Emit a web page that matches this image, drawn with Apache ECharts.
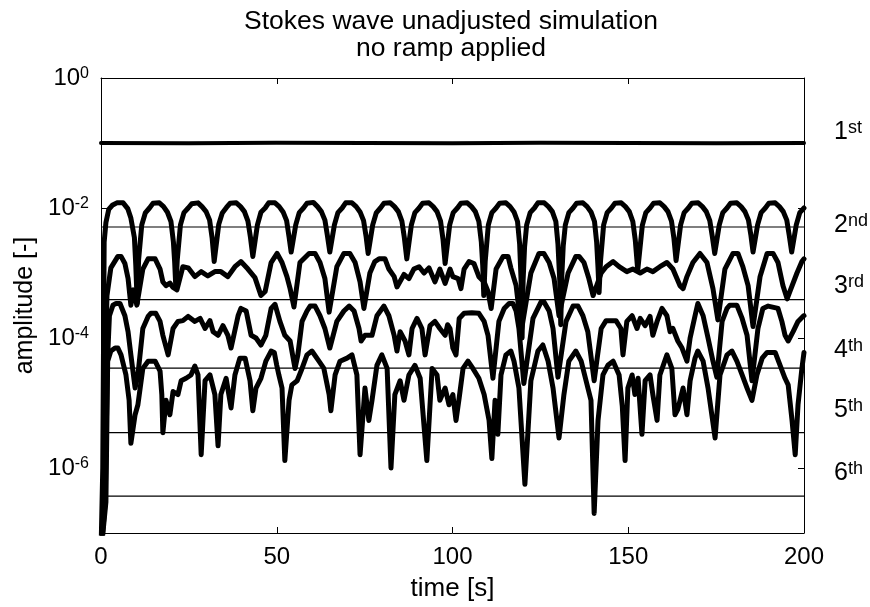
<!DOCTYPE html>
<html><head><meta charset="utf-8">
<script src="https://cdn.jsdelivr.net/npm/echarts@6/dist/echarts.min.js"></script>
<style>html,body{margin:0;padding:0;background:#fff}#c{width:870px;height:607px}</style>
</head><body><div id="c"></div>
<script>
// ---------- data ----------
const titleLines = ['Stokes wave unadjusted simulation', 'no ramp applied'];
const xName = 'time [s]';
const yName = 'amplitude [-]';
const timeTicks = [0, 50, 100, 150, 200];
const ampTicks = [1e-6, 1e-4, 1e-2, 1];
const ampMin = 1e-7, ampMax = 1;
const ordinals = [['1','st'],['2','nd'],['3','rd'],['4','th'],['5','th'],['6','th']];
// theoretical harmonic amplitudes (thin lines) for 2nd..6th
const refLevels = [5.1e-3, 3.9e-4, 3.45e-5, 3.5e-6, 3.7e-7];

const h1 = [[0,0.1],[25,0.099],[50,0.101],[75,0.1],[100,0.099],[125,0.101],[150,0.1],[175,0.099],[200,0.1]];

const h2 = [
[0,5e-8],[0.5,1e-6],[0.9,3e-3],[1.4,6e-3],[2.2,9.5e-3],[3.2,1.1e-2],[4.5,1.2e-2],[6.3,1.2e-2],[7.6,9.8e-3],[8.5,7e-3],[9.5,3.5e-3],[9.9,1.3e-3],[10.3,3.4e-4],[10.7,1.6e-3],
[11.6,5.5e-3],[12.6,8.4e-3],[13.8,1.0e-2],[14.8,1.18e-2],[16.6,1.2e-2],[17.8,1.05e-2],[18.9,8.6e-3],[19.9,6.2e-3],[20.6,3e-3],[20.95,1.5e-3],[21.3,5.8e-4],[21.7,1.6e-3],
[22.6,5.5e-3],[23.6,8.5e-3],[24.8,1.0e-2],[25.8,1.16e-2],[27.6,1.2e-2],[28.8,1.04e-2],[29.9,8.8e-3],[30.9,6.5e-3],[31.6,3.5e-3],[32.2,1.5e-3],
[33.5,5.6e-3],[34.5,8.4e-3],[35.7,1.02e-2],[36.7,1.18e-2],[38.5,1.2e-2],[39.7,1.05e-2],[40.8,8.8e-3],[41.8,6.3e-3],[42.5,3.6e-3],[43.2,1.8e-3],
[44.5,5.5e-3],[45.5,8.6e-3],[46.7,1.0e-2],[47.7,1.2e-2],[49.5,1.2e-2],[50.7,1.05e-2],[51.8,8.7e-3],[52.8,6.4e-3],[53.5,3.6e-3],[54.1,2.1e-3],
[55.4,5.5e-3],[56.4,8.5e-3],[57.6,1.0e-2],[58.6,1.18e-2],[60.4,1.22e-2],[61.6,1.05e-2],[62.7,8.8e-3],[63.7,6.5e-3],[64.4,3.8e-3],[65.1,2.1e-3],
[66.4,5.5e-3],[67.4,8.5e-3],[68.6,1.0e-2],[69.6,1.2e-2],[71.4,1.2e-2],[72.6,1.05e-2],[73.7,8.7e-3],[74.7,6.4e-3],[75.4,3.7e-3],[76.0,2.0e-3],
[77.3,5.5e-3],[78.3,8.4e-3],[79.5,1.0e-2],[80.5,1.18e-2],[82.3,1.2e-2],[83.5,1.05e-2],[84.6,8.8e-3],[85.6,6.3e-3],[86.3,3.5e-3],[87.0,1.65e-3],
[88.3,5.5e-3],[89.3,8.5e-3],[90.5,1.0e-2],[91.5,1.18e-2],[93.3,1.2e-2],[94.5,1.05e-2],[95.6,8.8e-3],[96.6,6.3e-3],[97.3,3.3e-3],[97.9,1.4e-3],
[99.2,5.5e-3],[100.2,8.5e-3],[101.4,1.0e-2],[102.4,1.18e-2],[104.2,1.2e-2],[105.4,1.05e-2],[106.5,8.8e-3],[107.5,6.2e-3],[108.2,3e-3],[108.6,1.3e-3],[108.9,4.5e-4],[109.3,1.5e-3],
[110.2,5.5e-3],[111.2,8.5e-3],[112.4,1.0e-2],[113.4,1.18e-2],[115.2,1.2e-2],[116.4,1.05e-2],[117.5,8.7e-3],[118.5,6.2e-3],[119.1,2.8e-3],[119.5,8e-4],[119.8,1.0e-4],[120.1,8e-4],[120.5,2.5e-3],
[121.1,5.5e-3],[122.1,8.5e-3],[123.3,1.0e-2],[124.3,1.2e-2],[126.1,1.2e-2],[127.3,1.05e-2],[128.4,8.8e-3],[129.4,6.2e-3],[130.0,2.8e-3],[130.5,8e-4],[130.8,1.6e-4],[131.1,9e-4],[131.5,2.6e-3],
[132.1,5.5e-3],[133.1,8.5e-3],[134.3,1.0e-2],[135.3,1.18e-2],[137.1,1.2e-2],[138.3,1.05e-2],[139.4,8.7e-3],[140.4,6.2e-3],[141.0,3e-3],[141.4,1.2e-3],[141.7,5e-4],[142.1,1.5e-3],
[143.0,5.5e-3],[144.0,8.5e-3],[145.2,1.0e-2],[146.2,1.18e-2],[148.0,1.2e-2],[149.2,1.05e-2],[150.3,8.8e-3],[151.3,6.2e-3],[152.0,3.2e-3],[152.7,1.1e-3],
[154.0,5.4e-3],[155.0,8.5e-3],[156.2,1.0e-2],[157.2,1.18e-2],[159.0,1.2e-2],[160.2,1.05e-2],[161.3,8.8e-3],[162.3,6.3e-3],[163.0,3.4e-3],[163.6,1.55e-3],
[164.9,5.5e-3],[165.9,8.5e-3],[167.1,1.0e-2],[168.1,1.18e-2],[169.9,1.2e-2],[171.1,1.05e-2],[172.2,8.8e-3],[173.2,6.4e-3],[173.9,3.7e-3],[174.6,2.0e-3],
[175.9,5.5e-3],[176.9,8.5e-3],[178.1,1.0e-2],[179.1,1.18e-2],[180.9,1.2e-2],[182.1,1.05e-2],[183.2,8.8e-3],[184.2,6.5e-3],[184.9,3.8e-3],[185.5,2.1e-3],
[186.8,5.5e-3],[187.8,8.5e-3],[189.0,1.0e-2],[190.0,1.18e-2],[191.8,1.2e-2],[193.0,1.05e-2],[194.1,8.8e-3],[195.1,6.5e-3],[195.8,3.8e-3],[196.5,2.1e-3],
[197.8,5.5e-3],[198.8,8.5e-3],[200,1.0e-2]
];

const h3 = [
[0,5e-8],[0.8,3e-7],[1.3,5e-5],[1.7,4.5e-4],[2.8,1.2e-3],[4.8,1.8e-3],[5.7,1.8e-3],[6.8,1.4e-3],[7.7,8.2e-4],[8.5,3.2e-4],[9.2,5.5e-4],[10.2,3.2e-4],
[11.9,1.15e-3],[13.4,1.65e-3],[15.4,1.65e-3],[16.8,1.15e-3],[17.6,7.3e-4],[18.5,6.4e-4],[19.6,7e-4],[20.5,6e-4],[21.6,5.5e-4],[23.3,1.25e-3],
[24.8,1.2e-3],[26.7,8.8e-4],[28.5,1.05e-3],[30.4,9e-4],[32.4,1.05e-3],[34.1,1.05e-3],[36.1,8.8e-4],[38.1,1.25e-3],[39.8,1.5e-3],[41.8,1.15e-3],[43.8,8.5e-4],[45.5,4.5e-4],[46.7,5.2e-4],
[48.4,1.45e-3],[50.1,2e-3],[51.5,1.45e-3],[52.9,8.8e-4],[53.8,5.75e-4],[54.9,3e-4],[56.6,1.45e-3],[59.2,2e-3],[60.9,2e-3],[62.3,1.45e-3],[63.7,8.2e-4],[64.9,2.5e-4],
[67.1,1.25e-3],[69.1,2e-3],[70.8,2e-3],[72.3,1.45e-3],[73.7,7.3e-4],[74.8,2.85e-4],[76.5,1e-3],[77.9,1.5e-3],[79.1,1.65e-3],[80.8,1.65e-3],[81.9,1.15e-3],[83.4,8.8e-4],[84.2,6.1e-4],
[86.2,9.5e-4],[87.6,8.2e-4],[89.0,1.15e-3],[90.5,1.25e-3],[91.9,1e-3],[93.3,1.2e-3],[95.0,7.3e-4],[96.4,1.15e-3],[97.9,6.9e-4],[99.3,1.15e-3],[100.1,8.8e-4],[101.6,8.2e-4],[102.4,5.75e-4],
[103.3,1.15e-3],[104.7,1.5e-3],[106.1,1.4e-3],[107.5,8.8e-4],[109.0,7.3e-4],[110.1,5.2e-4],[111.0,2.85e-4],[112.4,1.15e-3],[114.4,1.8e-3],[115.8,1.8e-3],[116.6,1.2e-3],[118.1,6.4e-4],[119.6,1.3e-4],
[122.3,1e-3],[124.6,2e-3],[126.0,2e-3],[127.5,1.45e-3],[128.9,8.2e-4],[130.3,2.2e-4],[132.9,1e-3],[135.1,1.8e-3],[136.0,1.8e-3],[137.4,1.45e-3],[138.8,8.2e-4],[140.0,4.5e-4],
[142.3,1e-3],[143.7,1.25e-3],[145.7,1.5e-3],[147.4,1.25e-3],[149.6,1.05e-3],[151.3,1.15e-3],[153.4,1e-3],[155.3,1.15e-3],[157.0,1.05e-3],[159.0,1.25e-3],[161.0,1.45e-3],[162.7,1.15e-3],[164.7,6.4e-4],[165.6,5.75e-4],[166.7,8.8e-4],
[168.4,1.45e-3],[170.4,2e-3],[172.4,1.45e-3],[174.1,5.75e-4],[175.5,1.9e-4],[177.5,1.15e-3],[179.8,2e-3],[181.2,2e-3],[182.6,1.25e-3],[184.1,6.4e-4],[185.5,1.5e-4],[187.5,8.8e-4],[189.5,2e-3],[191.2,2e-3],[192.6,1.45e-3],[194.0,6.4e-4],[195.2,4e-4],[196.0,5.2e-4],[198.0,1e-3],[199.4,1.5e-3],[200,1.65e-3]
];

const h4 = [
[0,5e-8],[1.2,3e-7],[1.8,4e-5],[2.4,2.2e-4],[3.4,3.2e-4],[4.3,3.4e-4],[5.4,3.4e-4],[6.8,2.2e-4],[7.7,1.25e-4],[8.5,5.5e-5],[9.7,1.7e-5],[10.5,2.7e-5],
[11.9,1.4e-4],[13.4,2.15e-4],[14.2,2.4e-4],[15.6,2.4e-4],[16.8,1.8e-4],[17.6,1.1e-4],[19.1,5.5e-5],[20.5,1.4e-4],[21.9,1.8e-4],[23.3,1.85e-4],[24.8,2.15e-4],[26.7,1.8e-4],[28.2,2e-4],
[29.6,1.4e-4],[31.0,1.85e-4],[31.9,1.25e-4],[33.3,1.1e-4],[34.7,1.55e-4],[36.1,1.1e-4],[37.0,7e-5],[39.0,2.2e-4],[39.8,2.85e-4],[41.3,2.6e-4],[42.7,1.1e-4],[44.1,1e-4],[45.5,7.8e-5],[46.9,1.1e-4],
[48.4,2.85e-4],[49.5,3.3e-4],[50.9,1.8e-4],[52.3,1.1e-4],[53.8,9e-5],[55.2,3.4e-5],[56.0,5.5e-5],[57.2,1.8e-4],[58.6,2.6e-4],[59.5,3.1e-4],[60.9,3.1e-4],[62.3,2.2e-4],[63.7,1.4e-4],[65.1,7e-5],
[67.1,1.8e-4],[69.1,2.6e-4],[70.6,3.1e-4],[72.0,2.6e-4],[73.4,1.4e-4],[74.0,9e-5],[75.1,1.1e-4],[77.1,1.1e-4],[78.5,2.2e-4],[80.5,3.1e-4],[81.9,2.2e-4],[83.4,1.1e-4],[84.2,6.3e-5],
[85.1,1.25e-4],[86.5,9e-5],[87.6,5.5e-5],[88.5,1.4e-4],[89.9,2e-4],[91.3,1.4e-4],[92.2,5.5e-5],[93.6,1.55e-4],[95.0,1.8e-4],[96.4,1.4e-4],[97.9,1.1e-4],[98.6,1.6e-4],[99.3,1.4e-4],[100.1,7e-5],[101.0,5.5e-5],
[101.9,2e-4],[103.3,2.4e-4],[105.5,2.45e-4],[107.5,2.4e-4],[109.0,1.8e-4],[110.1,1.1e-4],[111.5,2.4e-5],[113.2,1.8e-4],[114.7,2.85e-4],[116.1,3.4e-4],[117.2,3.4e-4],[118.1,2.6e-4],[118.9,1.4e-4],[120.3,2e-5],
[122.9,2e-4],[125.2,3.6e-4],[126.0,3.6e-4],[127.5,2.6e-4],[128.6,1.4e-4],[130.0,2.5e-5],[132.3,1.8e-4],[134.3,3.1e-4],[135.7,3.1e-4],[137.1,2.2e-4],[138.5,1.25e-4],[140.3,2.2e-5],
[142.3,1.4e-4],[143.7,1.85e-4],[146.5,1.85e-4],[147.9,1.4e-4],[148.5,5.5e-5],[149.6,1.8e-4],[151.1,2.2e-4],[152.5,1.4e-4],[153.4,2e-4],[154.8,1.55e-4],[156.2,2.15e-4],[157.0,1.1e-4],[158.2,1.8e-4],
[159.6,2.85e-4],[161.0,2.2e-4],[161.9,1.25e-4],[162.7,1.4e-4],[164.1,9e-5],[165.3,7e-5],[166.7,4.4e-5],[167.6,1e-4],[169.0,2.2e-4],[169.8,3.4e-4],[171.3,2.2e-4],[172.7,1e-4],[174.1,4.4e-5],[175.2,2.5e-5],
[176.7,1.8e-4],[178.1,2.85e-4],[178.9,3.2e-4],[180.9,3.2e-4],[182.4,2e-4],[183.8,1.1e-4],[185.2,2.2e-5],[186.9,1.4e-4],[188.3,2.85e-4],[189.8,3.1e-4],[192.6,2.85e-4],[193.7,1.8e-4],[194.6,1.1e-4],
[195.5,9e-5],[196.9,1.25e-4],[198.3,1.8e-4],[199.7,2.15e-4],[200,2.2e-4]
];

const h5 = [
[0,5e-8],[1.4,3e-7],[1.9,4.4e-5],[2.8,6.3e-5],[4.0,7e-5],[4.8,7e-5],[5.7,5.5e-5],[7.1,2.7e-5],[8.0,1.1e-5],[8.5,2.4e-6],[9.7,6.6e-6],[10.5,9.4e-6],
[11.9,3.4e-5],[13.4,4.4e-5],[15.4,4.4e-5],[16.8,3.1e-5],[17.3,1.35e-5],[17.6,3.5e-6],[18.5,1.1e-5],[19.6,6.6e-6],[20.5,1.5e-5],[21.9,1.35e-5],[22.8,2.2e-5],[24.2,2.4e-5],[25.6,2.7e-5],[26.7,3.7e-5],[27.6,2.7e-5],
[28.5,1.6e-6],[29.6,2.2e-5],[31.0,2.7e-5],[32.4,1.35e-5],[33.3,2.2e-6],[34.1,1.35e-5],[35.6,2.4e-5],[37.0,8.4e-6],[38.1,2.7e-5],[39.5,4.9e-5],[41.0,4.9e-5],[42.4,2.2e-5],[43.2,7.6e-6],[44.1,1.7e-5],
[45.5,2.4e-5],[46.9,4.4e-5],[48.4,6.3e-5],[49.3,6e-5],[50.0,3.8e-5],[50.6,2.7e-5],[51.5,1.7e-5],[52.3,1.3e-6],[53.5,1.1e-5],[54.3,1.9e-5],[55.8,2.2e-5],[57.2,3.4e-5],[58.6,5.5e-5],[60.0,6.3e-5],
[62.0,4.4e-5],[63.4,3.4e-5],[64.9,1.35e-5],[65.4,7.6e-6],[66.6,2.7e-5],[68.0,4.4e-5],[70.0,4.9e-5],[71.4,5.5e-5],[72.8,2.7e-5],[73.7,1.6e-6],[75.1,1.7e-5],[76.2,5.4e-6],[77.1,1.1e-5],
[78.5,3.8e-5],[79.9,5.5e-5],[81.4,3.4e-5],[82.5,1.0e-6],[83.6,1.35e-5],[85.1,2.2e-5],[86.2,1.1e-5],[87.6,2.7e-5],[89.3,3.8e-5],[90.8,2.4e-5],[92.7,1.3e-6],[94.2,3.4e-5],[95.6,2.7e-5],
[96.4,1.1e-5],[97.9,1.7e-5],[99.0,9.4e-6],[100.1,1.35e-5],[101.0,5.4e-6],[101.9,1.2e-5],[103.0,3.4e-5],[104.4,4.4e-5],[105.8,3.4e-5],[107.5,2.4e-5],[109.0,1.35e-5],[110.4,5.4e-6],[111.2,1.4e-6],
[112.1,1.1e-5],[112.9,3.3e-6],[113.8,2.7e-5],[115.2,5.5e-5],[116.6,6.3e-5],[117.5,4.4e-5],[118.9,1.7e-5],[120.6,5.6e-7],[122.3,2.2e-5],[124.3,6.3e-5],[125.7,7.8e-5],[127.2,4.4e-5],[128.6,1.7e-5],
[130.3,2.9e-6],[131.7,1.35e-5],[133.1,4.4e-5],[135.1,6.3e-5],[136.6,4.4e-5],[138.0,2.2e-5],[139.4,1.1e-5],[140.3,2e-7],[141.4,5.4e-6],[142.8,2.7e-5],[144.2,3.8e-5],[145.7,4.4e-5],[147.4,2.7e-5],
[148.3,9e-6],[149.1,1.3e-6],[149.9,1.7e-5],[151.1,2.7e-5],[151.9,1.35e-5],[152.8,2.4e-5],[153.9,3.3e-6],[154.8,2.2e-5],[156.2,2.7e-5],[157.0,1.35e-5],[158.2,5.4e-6],[159.0,2.7e-5],[161.0,5.5e-5],
[162.4,3.4e-5],[163.3,6.6e-6],[164.1,8e-6],[165.6,1.7e-5],[166.7,6.6e-6],[167.6,2.2e-5],[169.0,4.9e-5],[169.8,6.3e-5],[171.3,4.4e-5],[172.7,1.7e-5],[174.7,2.9e-6],[176.1,2.7e-5],[178.1,5.5e-5],
[179.5,6.3e-5],[180.9,4.4e-5],[182.4,2.7e-5],[183.8,1.7e-5],[185.2,1.1e-5],[186.6,2.7e-5],[188.1,4.9e-5],[189.5,6e-5],[191.8,6e-5],[193.2,3.8e-5],[194.6,2.4e-5],[195.5,1.9e-5],[196.6,5.4e-6],
[197.5,1.6e-6],[198.3,9.4e-6],[199.4,3.4e-5],[200,6e-5]
];

// ---------- chart ----------
const FONT = '"Liberation Sans", Arial, Helvetica, sans-serif';
const chart = echarts.init(document.getElementById('c'), null, {renderer: 'canvas'});

const G = {left: 101, right: 66, top: 78, bottom: 71};
const ordY = [132, 225, 286, 350, 410, 473];
const ordX = 834;

const axisLineStyle = {color: '#000', width: 1};
const expRich = {
  b: {fontFamily: FONT, fontSize: 24, color: '#000', lineHeight: 24, verticalAlign: 'bottom'},
  e: {fontFamily: FONT, fontSize: 16, color: '#000', lineHeight: 16, padding: [0, 0, 15, 0], verticalAlign: 'top'}
};

const curveSeries = [h1, h2, h3, h4, h5].map((d, i) => ({
  type: 'line', name: 'h' + (i + 1), data: d, showSymbol: false, symbol: 'none',
  lineStyle: {color: '#000', width: i === 0 ? 4 : 5, join: 'round', cap: 'round'},
  silent: true, z: 3, animation: false, clip: true
}));
const refSeries = refLevels.map((v, i) => ({
  type: 'line', name: 'ref' + (i + 2),
  data: [[timeTicks[0], v], [timeTicks[timeTicks.length - 1], v]],
  showSymbol: false, symbol: 'none',
  lineStyle: {color: '#000', width: 1.2}, silent: true, z: 2, animation: false
}));

const graphics = [{
  type: 'text', x: 451, y: 8, silent: true,
  style: {text: titleLines.join('\n'), fontFamily: FONT, fontSize: 26.5, lineHeight: 27, fill: '#000', align: 'center'}
}];
ordinals.forEach((o, i) => {
  graphics.push({
    type: 'text', x: ordX, y: ordY[i], silent: true,
    style: {
      text: '{n|' + o[0] + '}{s|' + o[1] + '}', verticalAlign: 'middle', align: 'left',
      rich: {
        n: {fontFamily: FONT, fontSize: 25, lineHeight: 25, fill: '#000', verticalAlign: 'bottom'},
        s: {fontFamily: FONT, fontSize: 18, lineHeight: 18, fill: '#000', padding: [0, 0, 15, 0], verticalAlign: 'top'}
      }
    }
  });
});

const option = {
  backgroundColor: '#fff',
  animation: false,
  grid: {left: G.left, right: G.right, top: G.top, bottom: G.bottom, containLabel: false},
  xAxis: [{
    type: 'value', min: timeTicks[0], max: timeTicks[timeTicks.length - 1], interval: 50, position: 'bottom',
    name: xName, nameLocation: 'middle', nameGap: 43,
    nameTextStyle: {fontFamily: FONT, fontSize: 26, color: '#000'},
    axisLine: {show: true, onZero: false, lineStyle: axisLineStyle},
    axisTick: {show: true, inside: true, length: 6, lineStyle: axisLineStyle},
    axisLabel: {fontFamily: FONT, fontSize: 24, color: '#000', margin: 12},
    splitLine: {show: false}
  }, {
    type: 'value', min: timeTicks[0], max: timeTicks[timeTicks.length - 1], interval: 50, position: 'top',
    axisLine: {show: true, onZero: false, lineStyle: axisLineStyle},
    axisTick: {show: true, inside: true, length: 6, lineStyle: axisLineStyle},
    axisLabel: {show: false}, splitLine: {show: false}
  }],
  yAxis: [{
    type: 'log', logBase: 10, min: ampMin, max: ampMax, position: 'left',
    name: yName, nameLocation: 'middle', nameGap: 62, nameRotate: 90,
    nameTextStyle: {fontFamily: FONT, fontSize: 25, color: '#000'},
    axisLine: {show: true, onZero: false, lineStyle: axisLineStyle},
    axisTick: {show: true, inside: true, length: 6, lineStyle: axisLineStyle, customValues: ampTicks},
    axisLabel: {
      customValues: ampTicks, margin: 12,
      formatter: v => '{b|10}{e|' + Math.round(Math.log10(v)) + '}',
      rich: expRich
    },
    splitLine: {show: false}, minorTick: {show: false}
  }, {
    type: 'log', logBase: 10, min: ampMin, max: ampMax, position: 'right',
    axisLine: {show: true, onZero: false, lineStyle: axisLineStyle},
    axisTick: {show: true, inside: true, length: 6, lineStyle: axisLineStyle, customValues: ampTicks},
    axisLabel: {show: false}, splitLine: {show: false}
  }],
  graphic: graphics,
  series: refSeries.concat(curveSeries)
};
chart.setOption(option);
</script>
</body></html>
